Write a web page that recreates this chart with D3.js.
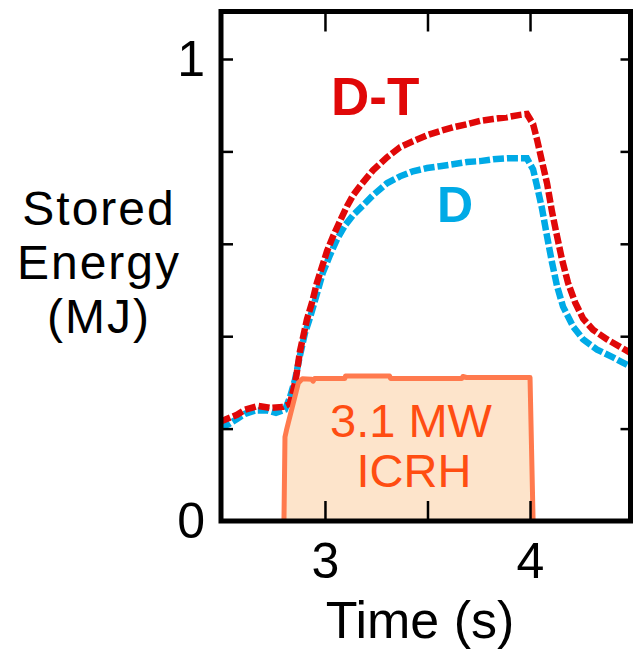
<!DOCTYPE html>
<html>
<head>
<meta charset="utf-8">
<script src="https://cdn.jsdelivr.net/npm/d3@7"></script>
<style>
  html, body { margin: 0; padding: 0; background: #fff; }
  svg { display: block; font-family: "Liberation Sans", Arial, sans-serif; }
</style>
</head>
<body>
<svg id="chart" width="633" height="651"></svg>
<script>
// Stored energy, D-T discharge (time in s, energy in MJ)
const tDT = [2.488, 2.512, 2.571, 2.610, 2.673, 2.732, 2.795, 2.829, 2.844, 2.859, 2.878, 2.912, 2.937, 2.961, 2.985,
             3.010, 3.039, 3.073, 3.107, 3.137, 3.171, 3.234, 3.302, 3.366, 3.429, 3.498, 3.561, 3.624, 3.693, 3.756,
             3.820, 3.888, 3.951, 3.985, 4.015, 4.034, 4.059, 4.083, 4.107, 4.132, 4.156, 4.185, 4.220, 4.259, 4.307,
             4.376, 4.439, 4.490];
const wDT = [0.215, 0.219, 0.230, 0.241, 0.249, 0.245, 0.247, 0.254, 0.280, 0.310, 0.367, 0.436, 0.473, 0.516, 0.549,
             0.584, 0.616, 0.649, 0.681, 0.705, 0.725, 0.759, 0.787, 0.809, 0.822, 0.835, 0.844, 0.852, 0.859, 0.866,
             0.870, 0.874, 0.879, 0.881, 0.859, 0.826, 0.777, 0.731, 0.670, 0.616, 0.566, 0.516, 0.473, 0.438, 0.414,
             0.393, 0.377, 0.364];

// Stored energy, D discharge
const tD = [2.488, 2.532, 2.571, 2.610, 2.659, 2.722, 2.761, 2.805, 2.829, 2.854, 2.878, 2.902, 2.927, 2.961, 2.990,
            3.024, 3.059, 3.098, 3.137, 3.185, 3.234, 3.302, 3.366, 3.429, 3.498, 3.561, 3.624, 3.693, 3.756, 3.820,
            3.888, 3.985, 4.015, 4.034, 4.059, 4.083, 4.107, 4.132, 4.161, 4.210, 4.259, 4.327, 4.405, 4.490];
const wD = [0.202, 0.210, 0.221, 0.232, 0.239, 0.239, 0.234, 0.241, 0.267, 0.306, 0.358, 0.406, 0.440, 0.492, 0.538,
            0.575, 0.610, 0.640, 0.662, 0.683, 0.705, 0.731, 0.746, 0.757, 0.764, 0.768, 0.772, 0.777, 0.779, 0.783,
            0.785, 0.785, 0.761, 0.725, 0.675, 0.616, 0.560, 0.508, 0.464, 0.421, 0.393, 0.371, 0.354, 0.334];

// ICRH heating power waveform (MW)
const tICRH = [2.800, 2.805, 2.812, 2.870, 2.890, 2.935, 2.942, 2.950, 3.097, 3.100, 3.315, 3.320, 3.668, 3.673,
               3.690, 4.000, 4.015];
const pICRH = [0, 1.81, 1.95, 2.97, 3.06, 3.05, 3.01, 3.07, 3.07, 3.12, 3.12, 3.07, 3.07, 3.11, 3.09, 3.09, 0];

// Axis ticks
const xTicks = [3, 3.5, 4];
const xTickLabels = ["3", "", "4"];
const yTicks = [0, 0.2, 0.4, 0.6, 0.8, 1];
const yTickLabels = ["0", "", "", "", "", "1"];

const svg = d3.select("#chart");
const plotLeft = 221, plotRight = 630.5, plotTop = 11.5, plotBottom = 521;

const x = d3.scaleLinear().domain([2.493, 4.49]).range([plotLeft, plotRight]);
const y = d3.scaleLinear().domain([0, 1]).range([plotBottom, 59]);
const p = d3.scaleLinear().domain([0, 3.1]).range([plotBottom, 377]);

svg.append("defs").append("clipPath").attr("id", "plot")
  .append("rect").attr("x", plotLeft).attr("y", plotTop)
  .attr("width", plotRight - plotLeft).attr("height", plotBottom - plotTop);

const plot = svg.append("g").attr("clip-path", "url(#plot)");

const energyLine = d3.line().x(d => x(d[0])).y(d => y(d[1]));

plot.append("path")
  .datum(tD.map((t, i) => [t, wD[i]]))
  .attr("d", energyLine)
  .attr("fill", "none").attr("stroke", "#00aae6")
  .attr("stroke-width", 6.5).attr("stroke-dasharray", "11,3");

plot.append("path")
  .datum(tDT.map((t, i) => [t, wDT[i]]))
  .attr("d", energyLine)
  .attr("fill", "none").attr("stroke", "#e00808")
  .attr("stroke-width", 6.5).attr("stroke-dasharray", "11,3");

// ICRH power trace
const icrh = tICRH.map((t, i) => [t, pICRH[i]]);
plot.append("path")
  .datum(icrh)
  .attr("d", d3.line().x(d => x(d[0])).y(d => p(d[1])))
  .attr("fill", "#fde4cb").attr("stroke", "#ff7a4e")
  .attr("stroke-width", 5).attr("stroke-linejoin", "round");

svg.append("text").attr("x", 411).attr("y", 437).attr("text-anchor", "middle")
  .attr("font-size", 47).attr("fill", "#ff4d12").text("3.1 MW");
svg.append("text").attr("x", 414).attr("y", 487).attr("text-anchor", "middle")
  .attr("font-size", 47).attr("fill", "#ff4d12").text("ICRH");

// Series labels
svg.append("text").attr("x", 331).attr("y", 115)
  .attr("font-size", 53).attr("font-weight", "bold").attr("fill", "#e00808").text("D-T");
svg.append("text").attr("x", 437).attr("y", 222)
  .attr("font-size", 50).attr("font-weight", "bold").attr("fill", "#00aae6").text("D");

// Axes: ticks pointing inward on all four sides
function styleAxis(g) {
  g.select(".domain").remove();
  g.selectAll(".tick line").attr("stroke", "#000").attr("stroke-width", 2.5);
  g.selectAll(".tick text").attr("fill", "#000").attr("font-family", "Liberation Sans, Arial, sans-serif");
}

svg.append("g").attr("transform", `translate(0,${plotBottom})`)
  .call(d3.axisBottom(x).tickValues(xTicks).tickSize(-20).tickPadding(21)
    .tickFormat((d, i) => xTickLabels[i]))
  .call(styleAxis)
  .selectAll(".tick text").attr("font-size", 50);

svg.append("g").attr("transform", `translate(0,${plotTop})`)
  .call(d3.axisTop(x).tickValues(xTicks).tickSize(-20).tickFormat(""))
  .call(styleAxis);

svg.append("g").attr("transform", `translate(${plotLeft},0)`)
  .call(d3.axisLeft(y).tickValues(yTicks).tickSize(-12).tickPadding(16)
    .tickFormat((d, i) => yTickLabels[i]))
  .call(styleAxis)
  .selectAll(".tick text").attr("font-size", 50);

svg.append("g").attr("transform", `translate(${plotRight},0)`)
  .call(d3.axisRight(y).tickValues(yTicks).tickSize(-10).tickFormat(""))
  .call(styleAxis);

// Frame
svg.append("rect").attr("x", plotLeft).attr("y", plotTop)
  .attr("width", plotRight - plotLeft).attr("height", plotBottom - plotTop)
  .attr("fill", "none").attr("stroke", "#000").attr("stroke-width", 5);

// Axis titles
[["Stored", 225], ["Energy", 279], ["(MJ)", 333]].forEach(([s, by]) => {
  svg.append("text").attr("x", 99).attr("y", by).attr("text-anchor", "middle")
    .attr("font-size", 48).attr("letter-spacing", 2).attr("fill", "#000").text(s);
});

svg.append("text").attr("x", 420).attr("y", 638).attr("text-anchor", "middle")
  .attr("font-size", 52).attr("fill", "#000").text("Time (s)");
</script>
</body>
</html>
